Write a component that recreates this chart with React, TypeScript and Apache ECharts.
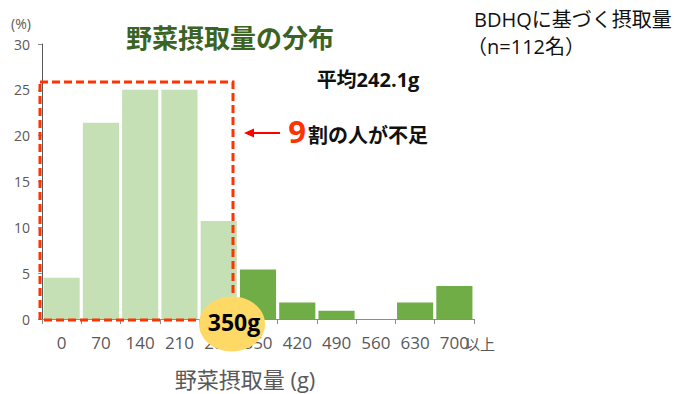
import React, { useEffect, useRef } from "react";
import * as echarts from "echarts";

// Vegetable intake distribution (BDHQ, n=112)
const categories = ["0", "70", "140", "210", "280", "350", "420", "490", "560", "630", "700"];
const shares = [4.5, 21.4, 25.0, 25.0, 10.7, 5.4, 1.8, 0.9, 0, 1.8, 3.6];
// categories below the 350 g target are drawn light
const belowTarget = [true, true, true, true, true, false, false, false, false, false, false];
const yTicks = { min: 0, max: 30, interval: 5 };

const LIGHT = "#C5E0B4";
const DARK = "#70AD47";
const FONT = "'Open Sans', 'Noto Sans CJK JP', sans-serif";

export default function App() {
  const ref = useRef<HTMLDivElement>(null);

  useEffect(() => {
    if (!ref.current) return;
    const chart = echarts.init(ref.current, null, { renderer: "svg" });
    chart.setOption({
      animation: false,
      textStyle: { fontFamily: FONT },
      grid: { left: 42, right: 217, top: 44, bottom: 75, containLabel: false },
      xAxis: {
        type: "category",
        data: categories,
        axisLine: { lineStyle: { color: "#8C8C8C", width: 1 } },
        axisTick: { show: true, length: 5, alignWithLabel: false, lineStyle: { color: "#8C8C8C" } },
        axisLabel: { color: "#595959", fontSize: 17, margin: 15, fontFamily: FONT, interval: 0 },
      },
      yAxis: {
        type: "value",
        min: yTicks.min,
        max: yTicks.max,
        interval: yTicks.interval,
        splitLine: { show: false },
        axisLine: { show: true, lineStyle: { color: "#595959", width: 1 } },
        axisTick: { show: true, length: 4, lineStyle: { color: "#8C8C8C" } },
        axisLabel: { color: "#595959", fontSize: 14, margin: 12, fontFamily: FONT },
      },
      series: [
        {
          type: "bar",
          barCategoryGap: "8%",
          data: shares.map((v, i) => ({
            value: v,
            itemStyle: { color: belowTarget[i] ? LIGHT : DARK },
          })),
        },
      ],
      graphic: [
        { type: "text", x: 11, y: 16, style: { text: "(%)", fill: "#595959", fontSize: 14, fontFamily: FONT } },
        {
          type: "text",
          x: 245,
          y: 379,
          style: {
            text: "野菜摂取量 (g)",
            fill: "#595959",
            fontSize: 22,
            fontFamily: FONT,
            align: "center",
            verticalAlign: "middle",
          },
        },
        {
          type: "text",
          x: 465,
          y: 344,
          style: { text: "以上", fill: "#595959", fontSize: 15, fontFamily: FONT, verticalAlign: "middle" },
        },
        {
          type: "text",
          x: 230,
          y: 38,
          style: {
            text: "野菜摂取量の分布",
            fill: "#3B6424",
            fontSize: 26,
            fontWeight: "bold",
            fontFamily: FONT,
            align: "center",
            verticalAlign: "middle",
          },
        },
        {
          type: "text",
          x: 368,
          y: 79,
          style: {
            text: "平均242.1g",
            fill: "#111",
            fontSize: 20,
            fontWeight: "bold",
            fontFamily: FONT,
            align: "center",
            verticalAlign: "middle",
          },
        },
        {
          type: "text",
          x: 474,
          y: 19,
          style: { text: "BDHQに基づく摂取量", fill: "#111", fontSize: 20, fontFamily: FONT, verticalAlign: "middle" },
        },
        {
          type: "text",
          x: 467,
          y: 46,
          style: { text: "（n=112名）", fill: "#111", fontSize: 20, fontFamily: FONT, verticalAlign: "middle" },
        },
        // dashed frame around the under-target bars
        {
          type: "rect",
          shape: { x: 40, y: 82, width: 193, height: 238 },
          style: { fill: "none", stroke: "#FF3300", lineWidth: 3, lineDash: [8, 4] },
          z: 10,
        },
        // arrow
        {
          type: "line",
          shape: { x1: 252, y1: 133, x2: 280, y2: 133 },
          style: { stroke: "#FF0000", lineWidth: 2 },
          z: 10,
        },
        {
          type: "polygon",
          shape: { points: [[244, 133], [254, 128.5], [254, 137.5]] },
          style: { fill: "#FF0000" },
          z: 10,
        },
        {
          type: "text",
          x: 297,
          y: 131,
          style: {
            text: "9",
            fill: "#FF3300",
            fontSize: 31,
            fontWeight: "bold",
            fontFamily: FONT,
            align: "center",
            verticalAlign: "middle",
          },
          z: 10,
        },
        {
          type: "text",
          x: 308,
          y: 135,
          style: {
            text: "割の人が不足",
            fill: "#111",
            fontSize: 20,
            fontWeight: "bold",
            fontFamily: FONT,
            verticalAlign: "middle",
          },
          z: 10,
        },
        // 350 g target badge
        {
          type: "ellipse",
          shape: { cx: 232, cy: 324, rx: 33, ry: 27.5 },
          style: { fill: "#FFD966" },
          z: 20,
        },
        {
          type: "text",
          x: 234,
          y: 322,
          style: {
            text: "350g",
            fill: "#000",
            fontSize: 23,
            fontWeight: "bold",
            fontFamily: FONT,
            align: "center",
            verticalAlign: "middle",
          },
          z: 21,
        },
      ],
    });
    return () => chart.dispose();
  }, []);

  return <div ref={ref} style={{ width: 691, height: 394, position: "absolute", left: 0, top: 0 }} />;
}
